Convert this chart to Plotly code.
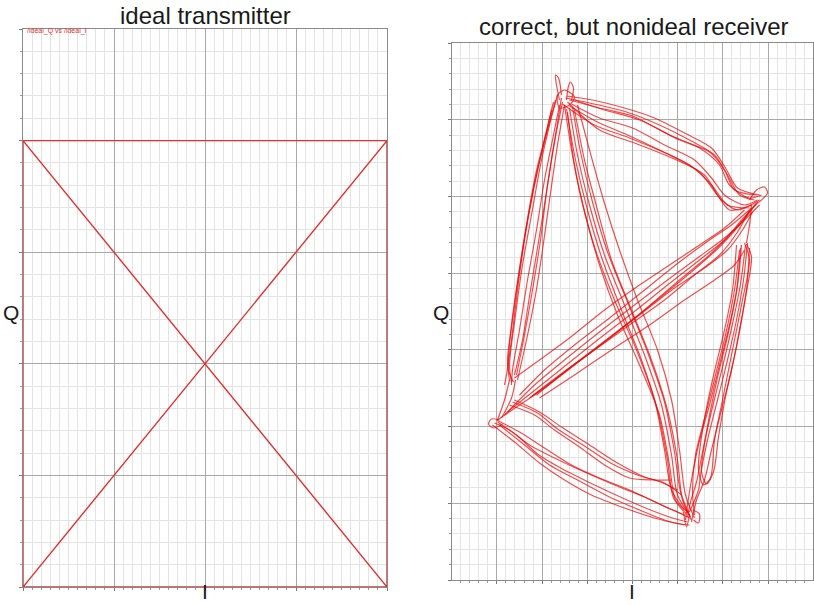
import plotly.graph_objects as go

# ---------------- data ----------------
# ideal transmitter: symbol trajectory (normalised I/Q)
IDEAL_I = [-1, -1, 1, 1, -1, 1, -1, 1]
IDEAL_Q = [-1, 1, 1, -1, -1, 1, 1, -1]

# nonideal receiver: traced I/Q trajectories (mV), grouped by bundle, (I, Q) pairs
TOP_EDGE = [
    [(-67, 214), (-43, 209), (-6, 200), (27, 187), (57, 172), (82, 157), (95, 137), (107, 117), (122, 112)],
    [(-63, 212), (-33, 204), (0, 196), (37, 177), (67, 164), (87, 147), (97, 127), (117, 114), (129, 117)],
    [(-61, 208), (-33, 194), (0, 184), (32, 167), (62, 152), (79, 134), (92, 117), (112, 107), (125, 112)],
    [(-65, 210), (-33, 182), (2, 169), (44, 152), (72, 137), (85, 117), (97, 102), (119, 107)],
    [(-58, 212), (-28, 202), (7, 192), (47, 172), (77, 160), (92, 142), (102, 122), (124, 117)],
    [(-70, 208), (-38, 187), (-3, 174), (37, 157), (67, 140), (89, 112), (105, 102), (127, 112)],
    [(-66, 216), (-40, 212), (-8, 204), (22, 194), (52, 179), (79, 164), (93, 144), (105, 124), (127, 117)],
    [(-63, 206), (-35, 190), (-5, 177), (27, 162), (57, 147), (79, 127), (95, 107), (117, 104)],
]
LEFT_EDGE = [
    [(-77, 212), (-85, 182), (-95, 142), (-105, 92), (-113, 42), (-120, -8), (-125, -48), (-123, -68)],
    [(-73, 207), (-80, 172), (-88, 132), (-96, 82), (-105, 32), (-113, -18), (-120, -58), (-121, -73)],
    [(-71, 214), (-77, 177), (-85, 127), (-92, 72), (-100, 22), (-108, -23), (-116, -63)],
    [(-81, 202), (-88, 172), (-99, 122), (-108, 72), (-115, 22), (-121, -28), (-126, -63), (-128, -73)],
    [(-68, 207), (-75, 167), (-83, 112), (-90, 62), (-97, 17), (-106, -28), (-115, -68)],
    [(-75, 217), (-83, 187), (-92, 147), (-101, 97), (-110, 47), (-117, -3), (-123, -53), (-121, -70)],
    [(-79, 210), (-87, 177), (-97, 137), (-106, 87), (-114, 37), (-121, -13), (-124, -58), (-119, -70)],
    [(-70, 210), (-78, 170), (-86, 120), (-94, 70), (-102, 22), (-110, -28), (-118, -63)],
]
DIAG_DOWN = [
    [(-68, 207), (-61, 162), (-51, 112), (-37, 62), (-18, 12), (4, -38), (22, -88), (32, -138), (39, -178), (52, -198)],
    [(-63, 204), (-55, 157), (-43, 107), (-28, 57), (-8, 7), (12, -43), (29, -93), (39, -143), (45, -183), (57, -203)],
    [(-58, 202), (-48, 152), (-35, 102), (-21, 52), (-1, 2), (19, -48), (35, -98), (45, -148), (50, -188), (59, -208)],
    [(-65, 200), (-58, 147), (-47, 97), (-33, 47), (-15, -3), (7, -53), (27, -103), (37, -153), (43, -188), (55, -200)],
    [(-55, 207), (-43, 162), (-29, 112), (-13, 62), (5, 12), (25, -38), (39, -88), (47, -138), (53, -183), (62, -206)],
    [(-60, 205), (-52, 160), (-40, 110), (-25, 60), (-5, 10), (15, -40), (32, -90), (42, -140), (48, -180), (58, -205)],
    [(-66, 203), (-57, 152), (-45, 102), (-30, 52), (-11, 2), (9, -48), (25, -98), (35, -148), (41, -186), (54, -202)],
]
RIGHT_EDGE = [
    [(115, 69), (111, 32), (104, -8), (95, -48), (85, -88), (75, -128), (68, -163), (66, -178), (57, -200)],
    [(109, 67), (105, 27), (97, -13), (87, -53), (77, -93), (66, -133), (59, -168), (55, -193), (53, -208)],
    [(117, 64), (114, 22), (107, -18), (99, -58), (89, -98), (79, -138), (72, -168), (64, -188), (59, -210)],
    [(107, 62), (102, 22), (93, -23), (83, -63), (73, -103), (63, -143), (60, -178), (62, -203)],
    [(104, 67), (100, 22), (92, -18), (80, -68), (70, -118), (66, -158), (71, -173), (78, -166), (82, -128),
     (90, -88), (100, -38), (110, 12), (117, 52), (112, 69)],
    [(113, 67), (108, 28), (100, -12), (90, -55), (80, -95), (71, -135), (64, -170), (58, -190), (55, -205)],
    [(108, 64), (104, 20), (96, -20), (84, -70), (74, -120), (69, -160), (74, -172), (81, -160), (86, -125),
     (93, -85), (104, -35), (113, 15), (119, 55), (114, 68)],
]
BOTTOM_EDGE = [
    [(-138, -111), (-123, -118), (-103, -133), (-78, -146), (-48, -160), (-18, -173), (12, -185), (35, -196), (52, -203)],
    [(-136, -108), (-113, -120), (-88, -136), (-61, -153), (-33, -166), (-3, -178), (25, -191), (45, -200), (57, -206)],
    [(-133, -113), (-108, -133), (-83, -153), (-55, -168), (-23, -185), (7, -198), (32, -208), (52, -213)],
    [(-123, -93), (-98, -103), (-78, -118), (-53, -135), (-28, -153), (-3, -166), (22, -168), (39, -168)],
    [(-118, -88), (-93, -100), (-71, -115), (-43, -133), (-15, -151), (12, -165), (32, -171), (49, -183)],
    [(-140, -113), (-118, -130), (-93, -151), (-68, -168), (-41, -183), (-8, -196), (22, -206), (42, -211), (57, -213)],
    [(-135, -110), (-115, -124), (-95, -142), (-70, -157), (-40, -172), (-10, -186), (18, -198), (40, -206), (55, -210)],
    [(-120, -90), (-95, -101), (-75, -117), (-48, -134), (-20, -152), (5, -163), (28, -170), (45, -178)],
]
DIAG_UP = [
    [(-135, -108), (-113, -93), (-88, -76), (-58, -53), (-23, -26), (12, 2), (47, 32), (77, 57), (97, 77), (115, 97), (125, 110)],
    [(-96, -83), (-68, -60), (-33, -33), (2, -6), (37, 22), (67, 47), (89, 67), (107, 87), (122, 107)],
    [(-103, -86), (-73, -63), (-38, -38), (-3, -13), (32, 12), (62, 37), (87, 57), (105, 80), (117, 102)],
    [(-128, -103), (-98, -73), (-68, -48), (-33, -20), (2, 7), (35, 32), (65, 54), (92, 74), (112, 92), (127, 107)],
    [(-113, -83), (-88, -58), (-58, -33), (-23, -6), (12, 22), (47, 50), (77, 72), (99, 87), (119, 104)],
    [(-93, -86), (-58, -63), (-21, -38), (17, -13), (52, 12), (82, 32), (102, 47), (112, 62)],
    [(-118, -66), (-93, -48), (-63, -26), (-28, 2), (7, 27), (37, 47), (67, 67), (92, 84), (112, 102)],
    [(-125, -100), (-100, -80), (-70, -56), (-35, -28), (0, -1), (35, 27), (67, 52), (92, 72), (110, 93), (124, 108)],
    [(-100, -84), (-65, -58), (-28, -30), (7, -3), (42, 24), (72, 44), (95, 62), (110, 82), (120, 100)],
]
CLUSTERS = [
    [(-73, 212), (-76, 227), (-77, 237), (-74, 234), (-71, 217)],
    [(-66, 212), (-64, 226), (-62, 230), (-59, 224), (-61, 212)],
    [(-75, 217), (-68, 222), (-58, 215), (-63, 207), (-73, 204), (-75, 217)],
    [(117, 112), (124, 122), (132, 125), (135, 119), (129, 112), (122, 107)],
    [(119, 107), (117, 87), (114, 69)],
    [(-133, -108), (-141, -107), (-144, -112), (-139, -116), (-130, -112)],
    [(-123, -68), (-128, -88), (-135, -108)],
    [(-117, -68), (-121, -86), (-131, -106)],
    [(51, -200), (54, -215), (57, -203)],
    [(60, -198), (67, -202), (66, -211), (61, -208)],
]

BUNDLES = [TOP_EDGE, LEFT_EDGE, DIAG_DOWN, RIGHT_EDGE, BOTTOM_EDGE, DIAG_UP, CLUSTERS]

# ---------------- figure ----------------
W, H = 814, 605
fig = go.Figure()

fig.add_trace(go.Scatter(x=IDEAL_I, y=IDEAL_Q, mode="lines",
                         line=dict(color="rgb(226,48,48)", width=1.4),
                         xaxis="x", yaxis="y", showlegend=False, hoverinfo="skip"))

for bundle in BUNDLES:
    xs, ys = [], []
    for strand in bundle:
        xs += [p[0] for p in strand] + [None]
        ys += [p[1] for p in strand] + [None]
    fig.add_trace(go.Scatter(x=xs, y=ys, mode="lines",
                             line=dict(color="rgba(235,10,10,0.72)", width=1.2, shape="spline", smoothing=0.8),
                             connectgaps=False, xaxis="x2", yaxis="y2",
                             showlegend=False, hoverinfo="skip"))

MAJ = "#a9a9a9"
MIN = "#e3e3e3"
LINE = "#8a8a8a"


def ax(domain, rng, tick0, dtick, mdtick):
    return dict(domain=domain, range=rng, tick0=tick0, dtick=dtick,
                showgrid=True, gridcolor=MAJ, gridwidth=1,
                showticklabels=False, zeroline=False,
                showline=True, linecolor=LINE, linewidth=1, mirror=True,
                ticks="outside", ticklen=3, tickcolor="#777",
                minor=dict(tick0=tick0, dtick=mdtick, showgrid=True, gridcolor=MIN, gridwidth=1,
                           ticks="outside", ticklen=2, tickcolor="#999"),
                fixedrange=True)


fig.update_layout(
    width=W, height=H,
    margin=dict(l=0, r=0, t=0, b=0),
    paper_bgcolor="white", plot_bgcolor="white",
    xaxis=ax([23 / W, 387 / W], [-1, 1], -1, 0.5, 0.05),
    yaxis=ax([1 - 587 / H, 1 - 29 / H], [-1, 1.5], -1, 0.5, 0.1),
    xaxis2=ax([452 / W, 813 / W], [-180.5, 180.5], 0, 45.2, 9.04),
    yaxis2=ax([1 - 580 / H, 1 - 43 / H], [-268, 269], -268, 537 / 7, 537 / 35),
    font=dict(family="Liberation Sans, Arial, sans-serif", color="#1a1a1a"),
)
fig.layout.xaxis2.anchor = "y2"
fig.layout.yaxis2.anchor = "x2"

ann = [
    dict(text="ideal transmitter", x=205 / W, y=1 - 15 / H, size=24, ya="middle"),
    dict(text="correct, but nonideal receiver", x=634 / W, y=1 - 27 / H, size=24, ya="middle"),
    dict(text="Q", x=11 / W, y=1 - 312 / H, size=21, ya="middle"),
    dict(text="Q", x=441 / W, y=1 - 312 / H, size=21, ya="middle"),
    dict(text="I", x=205 / W, y=0, size=21, ya="bottom"),
    dict(text="I", x=632 / W, y=0, size=21, ya="bottom"),
]
for a in ann:
    fig.add_annotation(text=a["text"], x=a["x"], y=a["y"], xref="paper", yref="paper",
                       xanchor="center", yanchor=a["ya"], showarrow=False,
                       font=dict(size=a["size"], color="#1a1a1a"))
fig.add_annotation(text="/ideal_Q vs /ideal_I", x=25 / W, y=1 - 31 / H, xref="paper", yref="paper",
                   xanchor="left", yanchor="middle", showarrow=False,
                   font=dict(size=7, color="rgb(226,48,48)"))

fig.write_html("out.html", config={"displayModeBar": False},
               post_script="document.body.style.margin='0px';")
